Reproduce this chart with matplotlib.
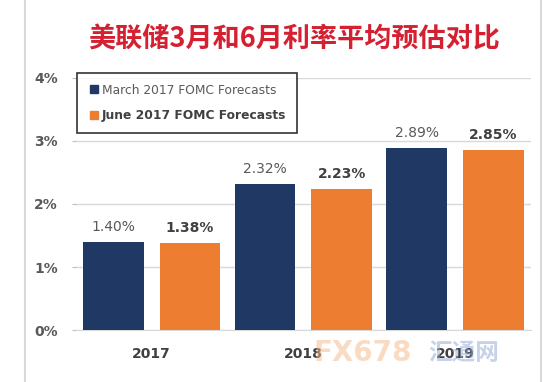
import matplotlib
matplotlib.use("Agg")
import matplotlib.pyplot as plt
from matplotlib.lines import Line2D
import numpy as np

plt.rcParams['font.family'] = ['DejaVu Sans']

title = "美联储3月和6月利率平均预估对比"
years = ["2017", "2018", "2019"]
march = [1.40, 2.32, 2.89]
june = [1.38, 2.23, 2.85]
series_names = ["March 2017 FOMC Forecasts", "June 2017 FOMC Forecasts"]
yticks = [0, 1, 2, 3, 4]
ytick_labels = ["0%", "1%", "2%", "3%", "4%"]

navy = "#203864"
orange = "#ED7D31"
txt = "#595959"

fig = plt.figure(figsize=(5.49, 3.82), dpi=100)
fig.patch.set_facecolor("white")
ax = fig.add_axes([0.138, 0.136, 0.829, 0.660])

x = np.arange(len(years))
off = 0.253
w = 0.40
ax.bar(x - off, march, width=w, color=navy, zorder=3)
ax.bar(x + off, june, width=w, color=orange, zorder=3)

for xi, v in zip(x, march):
    ax.text(xi - off, v + 0.13, f"{v:.2f}%", ha="center", va="bottom",
            fontsize=10, color=txt)
for xi, v in zip(x, june):
    ax.text(xi + off, v + 0.13, f"{v:.2f}%", ha="center", va="bottom",
            fontsize=10, color="#404040", fontweight="bold")

ax.set_xlim(-0.5, 2.5)
ax.set_ylim(0, 4)
ax.set_yticks(yticks)
ax.set_yticklabels(ytick_labels, fontsize=10, color=txt, fontweight="bold")
ax.set_xticks(x)
ax.set_xticklabels(years, fontsize=10, color="#404040", fontweight="bold")
ax.tick_params(axis="x", length=0, pad=12)
ax.tick_params(axis="y", length=3, color="#bfbfbf", pad=10)
ax.grid(axis="y", color="#d9d9d9", linewidth=1, zorder=0)
for s in ["top", "right", "left"]:
    ax.spines[s].set_visible(False)
ax.spines["bottom"].set_color("#d9d9d9")

handles = [Line2D([], [], marker="s", linestyle="none", markersize=6,
                  markerfacecolor=navy, markeredgecolor=navy),
           Line2D([], [], marker="s", linestyle="none", markersize=6,
                  markerfacecolor=orange, markeredgecolor=orange)]
leg = ax.legend(handles, series_names, loc="upper left",
                bbox_to_anchor=(-0.01, 1.045), frameon=True, fancybox=False,
                edgecolor="black", fontsize=8.8, handletextpad=0.1,
                handlelength=1.0, labelspacing=1.0, borderpad=0.9)
leg.get_frame().set_linewidth(1.2)
texts = leg.get_texts()
texts[0].set_color(txt)
texts[1].set_color("#404040")
texts[1].set_fontweight("bold")

fig.text(0.535, 0.897, title, ha="center", va="center", fontsize=19.5,
         color="#D42030", fontweight="bold", family=["Noto Sans CJK SC", "DejaVu Sans"])

# watermark
fig.text(0.66, 0.075, "FX678", ha="center", va="center", fontsize=20,
         color="#F5B98A", alpha=0.5, fontweight="bold")
fig.text(0.845, 0.075, "汇通网", ha="center", va="center", fontsize=17,
         color="#8FA6D6", alpha=0.5, fontweight="bold",
         family=["Noto Sans CJK SC", "DejaVu Sans"])

# frame lines
fig.add_artist(Line2D([0.045, 0.045], [0, 1], transform=fig.transFigure,
                      color="#d9d9d9", linewidth=1.5))
fig.add_artist(Line2D([0.985, 0.985], [0, 1], transform=fig.transFigure,
                      color="#d9d9d9", linewidth=1.5))

fig.savefig("out.png", dpi=100)
